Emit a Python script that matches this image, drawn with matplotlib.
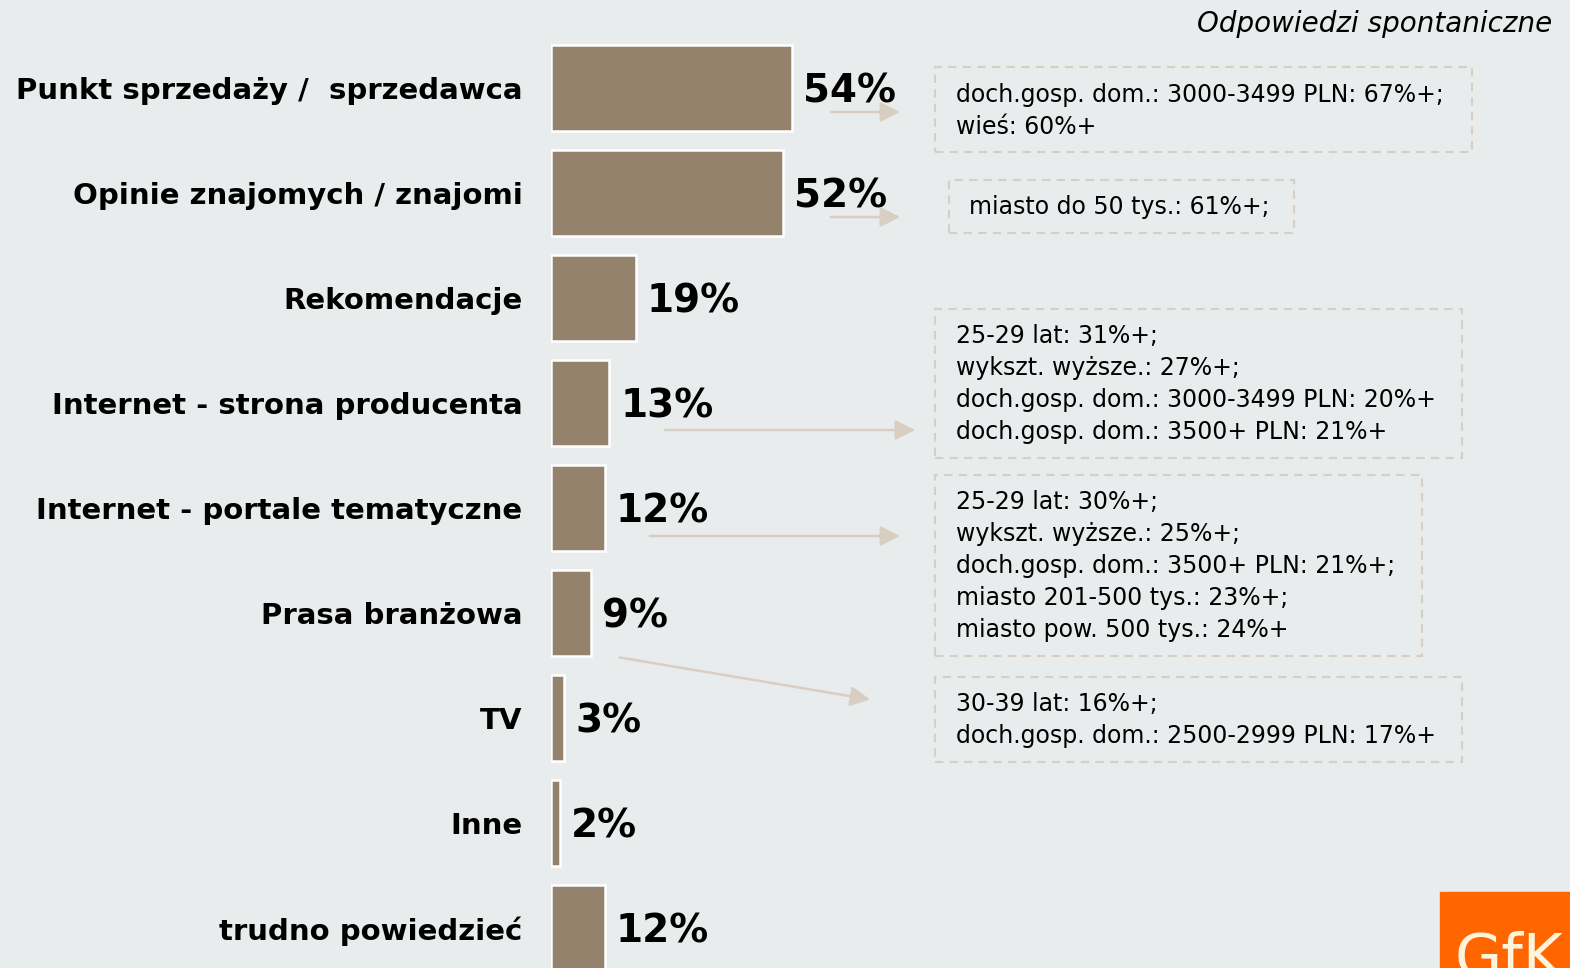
import matplotlib.pyplot as plt
from matplotlib.patches import Rectangle, FancyArrowPatch

W, H = 1570, 968

categories = ["Punkt sprzedaży /  sprzedawca", "Opinie znajomych / znajomi", "Rekomendacje",
              "Internet - strona producenta", "Internet - portale tematyczne", "Prasa branżowa",
              "TV", "Inne", "trudno powiedzieć"]
values = [54, 52, 19, 13, 12, 9, 3, 2, 12]

notes_1 = ["doch.gosp. dom.: 3000-3499 PLN: 67%+;", "wieś: 60%+"]
notes_2 = ["miasto do 50 tys.: 61%+;"]
notes_3 = ["25-29 lat: 31%+;", "wykszt. wyższe.: 27%+;",
           "doch.gosp. dom.: 3000-3499 PLN: 20%+", "doch.gosp. dom.: 3500+ PLN: 21%+"]
notes_4 = ["25-29 lat: 30%+;", "wykszt. wyższe.: 25%+;", "doch.gosp. dom.: 3500+ PLN: 21%+;",
           "miasto 201-500 tys.: 23%+;", "miasto pow. 500 tys.: 24%+"]
notes_5 = ["30-39 lat: 16%+;", "doch.gosp. dom.: 2500-2999 PLN: 17%+"]

bg = "#e9ecec"
bar_col = "#94826d"
line_col = "#d8cfc2"

fig = plt.figure(figsize=(W / 100, H / 100), dpi=100, facecolor=bg)

def px(x, y):
    return (x / W, 1 - y / H)

# bars
ax = fig.add_axes([551 / W, 0, 1 - 551 / W, 1])
ax.set_facecolor("none")
ax.barh(range(len(values)), values, height=0.82, color=bar_col, edgecolor="white", linewidth=1.8)
ax.set_xlim(0, (W - 551) / 4.47)
ax.set_ylim((H - 88) / 105, -88 / 105)
ax.set_yticks(range(len(categories)), categories, fontsize=21, fontweight="bold")
ax.tick_params(axis="y", length=0, pad=20.5)
ax.set_xticks([])
for s in ax.spines.values():
    s.set_visible(False)
for i, v in enumerate(values):
    ax.text(v + 11 / 4.47, i + 0.03, f"{v}%", va="center", ha="left", fontsize=28, fontweight="bold")

fig.text(*px(1552, 24), "Odpowiedzi spontaniczne", ha="right", va="center",
         fontsize=20, style="italic")

# note boxes
boxes = [
    (935, 67, 1472, 152, 956, 95, notes_1),
    (949, 180, 1294, 233, 969, 207, notes_2),
    (935, 309, 1462, 458, 956, 336, notes_3),
    (935, 475, 1422, 656, 956, 502, notes_4),
    (935, 677, 1462, 762, 956, 704, notes_5),
]
for x0, y0, x1, y1, tx, ty, lines in boxes:
    fig.patches.append(Rectangle(px(x0, y1), (x1 - x0) / W, (y1 - y0) / H,
                                 transform=fig.transFigure, fill=False,
                                 edgecolor=line_col, linewidth=1.5, linestyle=(0, (4, 3))))
    for k, t in enumerate(lines):
        fig.text(*px(tx, ty + 32 * k), t, ha="left", va="center", fontsize=17)

arrows = [((828, 112), (903, 112)), ((828, 217), (903, 217)), ((662, 430), (918, 430)),
          ((647, 536), (903, 536)), ((617, 657), (873, 700))]
for a, b in arrows:
    fig.patches.append(FancyArrowPatch(px(*a), px(*b), transform=fig.transFigure,
                                       arrowstyle="-|>,head_length=12,head_width=6",
                                       color=line_col, linewidth=1.8, mutation_scale=1))

# GfK logo
fig.patches.append(Rectangle(px(1440, 968), 130 / W, 76 / H, transform=fig.transFigure,
                             color="#ff6600"))
fig.text(*px(1455, 977), "GfK", ha="left", va="baseline", fontsize=44, color="#fff3dc")

fig.savefig("out.png", dpi=100, facecolor=bg)
